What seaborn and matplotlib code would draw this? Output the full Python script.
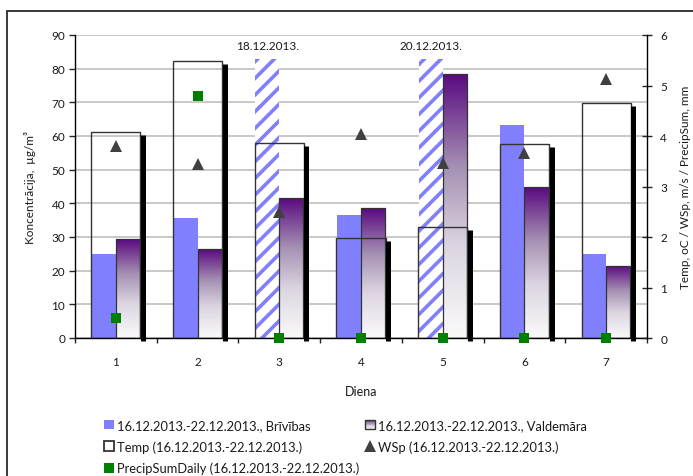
import numpy as np
import pandas as pd
import matplotlib
matplotlib.use("Agg")
import matplotlib.pyplot as plt
import seaborn as sns
from matplotlib.patches import Rectangle
from matplotlib.lines import Line2D
from matplotlib.legend_handler import HandlerBase
from matplotlib.colors import LinearSegmentedColormap
from matplotlib import transforms

# ---- data ----
days = ["1", "2", "3", "4", "5", "6", "7"]
brivibas = [25.0, 35.6, 83.0, 36.5, 83.0, 63.3, 24.9]
brivibas_hatched = [False, False, True, False, True, False, False]
hatch_notes = ["", "", "18.12.2013.", "", "20.12.2013.", "", ""]
valdemara = [29.4, 26.4, 41.5, 38.5, 78.3, 44.8, 21.5]
temp = [4.07, 5.48, 3.87, 1.98, 2.20, 3.85, 4.66]
wsp = [3.81, 3.44, 2.49, 4.03, 3.46, 3.67, 5.13]
precip = [0.40, 4.79, 0.0, 0.0, 0.0, 0.0, 0.0]

lbl_briv = "16.12.2013.-22.12.2013., Brīvības"
lbl_vald = "16.12.2013.-22.12.2013., Valdemāra"
lbl_temp = "Temp (16.12.2013.-22.12.2013.)"
lbl_wsp = "WSp (16.12.2013.-22.12.2013.)"
lbl_prec = "PrecipSumDaily (16.12.2013.-22.12.2013.)"

left_ticks = list(range(0, 91, 10))
right_ticks = list(range(0, 7))

# ---- style ----
sns.set_style("white")
plt.rcParams["font.family"] = ["Lato", "DejaVu Sans"]
plt.rcParams["hatch.linewidth"] = 2.6
plt.rcParams["hatch.color"] = "#8080ff"

BLUE = "#8080ff"
EDGE = "#333333"
TXT = "#1a1a1a"
vald_cmap = LinearSegmentedColormap.from_list(
    "vald", [(0.0, "#fafafa"), (0.35, "#dcd5e1"), (0.65, "#a590b3"), (1.0, "#5a0a80")])

fig = plt.figure(figsize=(6.93, 4.77), dpi=100)
W, H = 693, 477
ax = fig.add_axes([75 / W, 1 - 339 / H, 572 / W, 303 / H])
ax2 = ax.twinx()

# ---- concentration bars (left axis) ----
conc = pd.DataFrame({
    "Diena": days * 2,
    "Koncentrācija": brivibas + valdemara,
    "Sērija": [lbl_briv] * 7 + [lbl_vald] * 7,
})
sns.barplot(data=conc, x="Diena", y="Koncentrācija", hue="Sērija",
            hue_order=[lbl_briv, lbl_vald],
            palette={lbl_briv: BLUE, lbl_vald: "#a590b3"},
            width=0.59, gap=0, saturation=1, errorbar=None, legend=False,
            linewidth=0, ax=ax, zorder=2)

briv_bars = ax.containers[0]
vald_bars = ax.containers[1]

for p, hatched in zip(briv_bars, brivibas_hatched):
    if hatched:
        p.set_facecolor("white")
        p.set_edgecolor(BLUE)
        p.set_hatch("//")
        p.set_linewidth(0)

grad = np.linspace(0, 1, 256).reshape(-1, 1)
for p in vald_bars:
    x0, y0, w, h = p.get_x(), p.get_y(), p.get_width(), p.get_height()
    im = ax.imshow(grad, extent=[x0, x0 + w, y0, y0 + h], origin="lower",
                   cmap=vald_cmap, aspect="auto", zorder=2.1,
                   interpolation="bilinear")
    im.set_clip_path(p)
    p.set_facecolor("none")
    p.set_edgecolor(EDGE)
    p.set_linewidth(0.9)
    p.set_zorder(2.2)

for p, note in zip(briv_bars, hatch_notes):
    if note:
        ax.text(p.get_x() + p.get_width() / 2, 87, note, ha="center",
                va="center", fontsize=8.5, color=TXT)

# ---- temperature outlines + markers (right axis) ----
sns.barplot(x=days, y=temp, ax=ax2, fill=False, color=EDGE, width=0.6,
            errorbar=None, linewidth=1.0, zorder=3)
shadow = ax2.transData + transforms.ScaledTranslation(0.026, -0.03, fig.dpi_scale_trans)
for p in ax2.patches:
    p.set_edgecolor(EDGE)
    p.set_linewidth(1.0)
    xr = p.get_x() + p.get_width()
    ax2.plot([xr, xr], [0, p.get_height()], color="black", lw=3.6,
             solid_capstyle="butt", transform=shadow, zorder=2.9)

sns.pointplot(x=days, y=wsp, ax=ax2, color="#404040", markers="^",
              linestyle="none", errorbar=None, markersize=9,
              markeredgewidth=0)
sns.pointplot(x=days, y=precip, ax=ax2, color="#008000", markers="s",
              linestyle="none", errorbar=None, markersize=7.5,
              markeredgewidth=0)
for ln in ax2.lines:
    ln.set_clip_on(False)
    ln.set_zorder(4)

# ---- axes ----
ax.set_xlim(-0.5, 6.5)
ax.set_ylim(0, 90)
ax2.set_ylim(0, 6)
ax.set_yticks(left_ticks)
ax2.set_yticks(right_ticks)
ax.set_xticks(range(len(days)))
ax.set_xticklabels(days)
ax.set_xticks(np.arange(-0.5, 7, 1.0), minor=True)

ax.set_axisbelow(True)
ax.yaxis.grid(True, color="#c4c4c4", lw=1.3)
ax.xaxis.grid(False)
ax2.grid(False)

for s in ["top", "right"]:
    ax.spines[s].set_visible(False)
for s in ["top", "left", "bottom"]:
    ax2.spines[s].set_visible(False)
ax.spines["left"].set_color("black")
ax.spines["bottom"].set_color("black")
ax2.spines["right"].set_color("black")
for s in [ax.spines["left"], ax.spines["bottom"], ax2.spines["right"]]:
    s.set_linewidth(1.0)
    s.set_zorder(5)

ax.tick_params(axis="y", which="major", left=True, length=4, width=1,
               direction="out", labelsize=8.5, labelcolor=TXT, pad=3)
ax.tick_params(axis="x", which="major", bottom=True, length=0,
               labelsize=8.5, labelcolor=TXT, pad=13)
ax.tick_params(axis="x", which="minor", bottom=True, length=3.5, width=1,
               direction="out")
ax2.tick_params(axis="y", right=True, length=7, width=1, direction="inout",
                labelsize=8.5, labelcolor=TXT, pad=6)

ax.set_xlabel("Diena", fontsize=9, color=TXT)
ax.xaxis.set_label_coords(0.5, -0.155)
ax.set_ylabel("Koncentrācija,  µg/m³", fontsize=8.5, color=TXT)
ax.yaxis.set_label_coords(-0.068, 0.5)
ax2.set_ylabel("Temp, oC / WSp, m/s / PrecipSum, mm", fontsize=8.5, color=TXT)
ax2.yaxis.set_label_coords(1.058, 0.5)


# ---- legend ----
class GradientHandler(HandlerBase):
    def create_artists(self, legend, orig_handle, xdescent, ydescent,
                       width, height, fontsize, trans):
        n = 12
        arts = []
        for i in range(n):
            c = vald_cmap(1 - (i + 0.5) / n)
            arts.append(Rectangle((-xdescent, -ydescent + height * (n - 1 - i) / n),
                                  width, height / n, facecolor=c,
                                  edgecolor="none", transform=trans))
        arts.append(Rectangle((-xdescent, -ydescent), width, height,
                              facecolor="none", edgecolor=EDGE, lw=1.0,
                              transform=trans))
        return arts


h_briv = Rectangle((0, 0), 1, 1, facecolor=BLUE, edgecolor="none")
h_vald = Rectangle((0, 0), 1, 1, facecolor="none", edgecolor=EDGE)
h_temp = Rectangle((0, 0), 1, 1, facecolor="white", edgecolor=EDGE, lw=1.3)
h_wsp = Line2D([], [], ls="none", marker="^", color="#404040", ms=9, mew=0)
h_prec = Rectangle((0, 0), 1, 1, facecolor="#008000", edgecolor="none")

leg_kw = dict(frameon=False, fontsize=9.3, handlelength=0.78, handleheight=0.78,
              handletextpad=0.25, labelspacing=0.7, borderpad=0,
              borderaxespad=0, loc="upper left", labelcolor=TXT)
fig.legend([h_briv, h_temp, h_prec], [lbl_briv, lbl_temp, lbl_prec],
           bbox_to_anchor=(104 / W, 1 - 420 / H), **leg_kw)
fig.legend([h_vald, h_wsp], [lbl_vald, lbl_wsp],
           handler_map={h_vald: GradientHandler()},
           bbox_to_anchor=(365 / W, 1 - 420 / H), **leg_kw)

# outer chart frame
fig.add_artist(Rectangle((7 / W, -0.2), 1.2, 1.2 - 12 / H, transform=fig.transFigure,
                         fill=False, edgecolor="#2a2a2a", lw=1.3))

fig.savefig("out.png", dpi=100)
